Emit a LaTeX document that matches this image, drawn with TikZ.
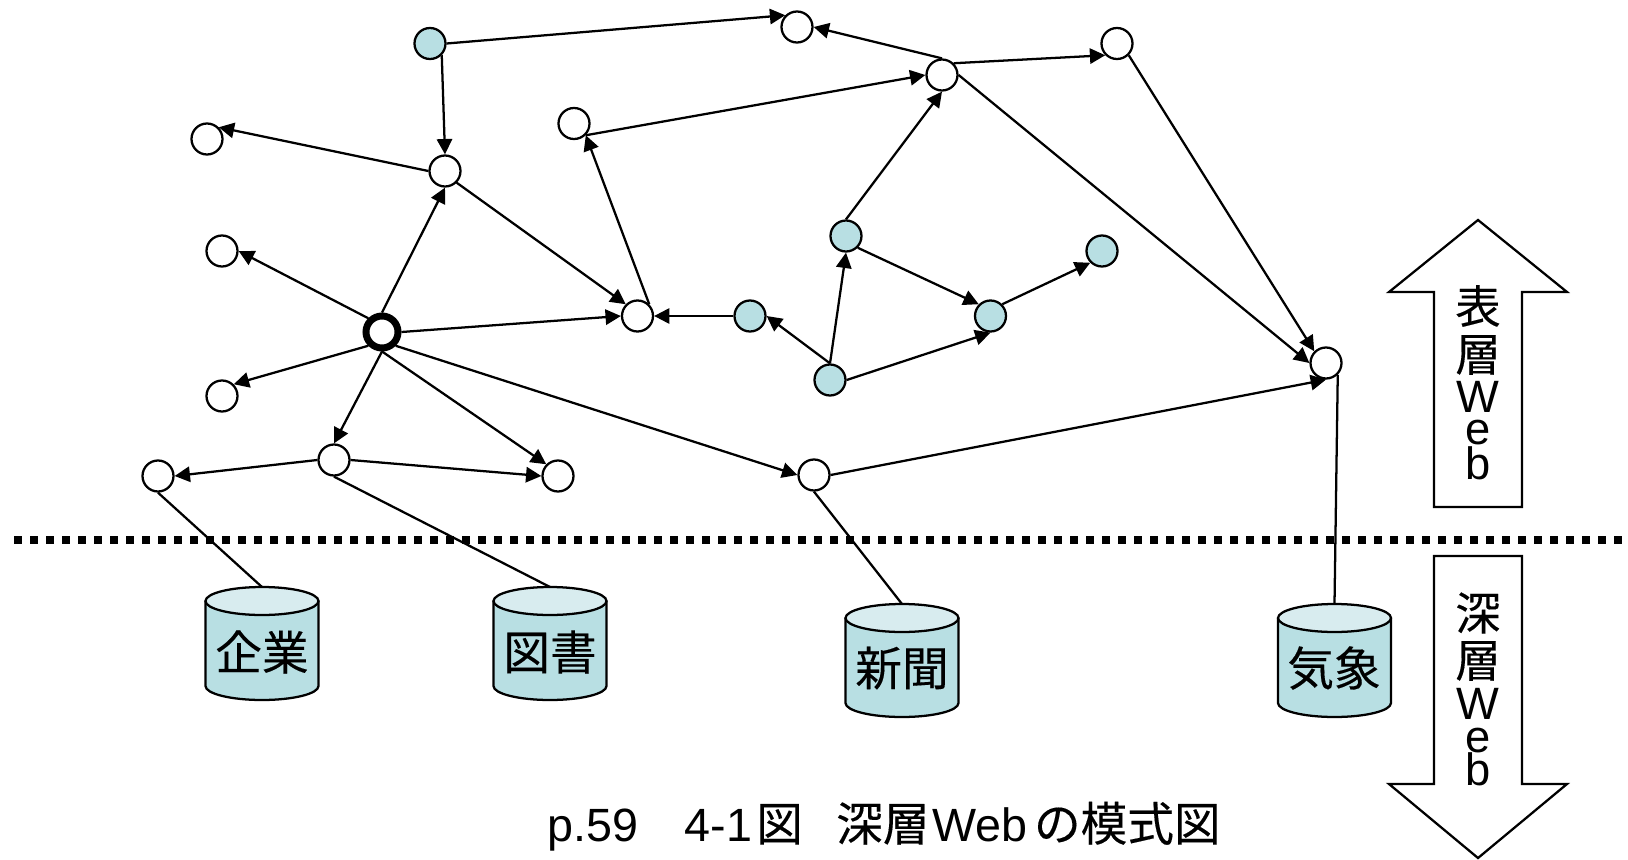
\documentclass[tikz,border=0pt]{standalone}
\usepackage{fontspec}
\setmainfont{Liberation Sans}
\newfontfamily\cjk[FakeBold=0.25]{Noto Sans CJK JP}
\usetikzlibrary{arrows.meta}
\definecolor{nodeblue}{HTML}{B8DFE3}
\definecolor{cyltop}{HTML}{D8ECEF}
\tikzset{
  x=0.75pt,y=-0.75pt,
  pagenode/.style={circle,draw=black,line width=1.7pt,fill=white,minimum size=23.25pt,inner sep=0pt,outer sep=0.85pt},
  bluenode/.style={pagenode,fill=nodeblue},
  hubnode/.style={pagenode,line width=5.25pt,minimum size=24pt,outer sep=2.6pt},
  link/.style={line width=1.7pt,-{Triangle[length=11.5pt,width=11.5pt]}},
  plain/.style={line width=1.7pt},
  dbbody/.style={draw=black,line width=1.7pt,fill=nodeblue,line join=round},
  dbtop/.style={draw=black,line width=1.7pt,fill=cyltop},
  cyltext/.style={font=\cjk\fontsize{35}{35}\selectfont,inner sep=0pt},
  blockarrow/.style={draw=black,line width=1.7pt,fill=white,line join=miter},
  stack/.style={font=\fontsize{34}{34}\selectfont,inner sep=0pt,anchor=center},
  stackcjk/.style={font=\cjk\fontsize{34}{34}\selectfont,inner sep=0pt,anchor=center},
}
\begin{document}
\begin{tikzpicture}
\useasboundingbox (0,0) rectangle (1628,860);
% dotted boundary
\coordinate (lineL) at (14,540);
\coordinate (lineR) at (1628,540);
\draw[line width=6pt,dash pattern=on 6pt off 6pt] (lineL) -- (lineR);
% databases: centre x / y of the top edge
\foreach \nm/\cx/\ty in {db1/262/587,db2/550/587,db3/902/604,db4/1334.5/604}{
  \coordinate (\nm) at (\cx,\ty);
  \path[dbbody] (\cx-56.5,\ty+14) -- (\cx-56.5,\ty+99) arc[start angle=180,end angle=0,x radius=56.5,y radius=14] -- (\cx+56.5,\ty+14) -- cycle;
  \path[dbtop] (\cx,\ty+14) ellipse[x radius=56.5,y radius=14];
}
\node[cyltext] (t1) at (262,652) {企業};
\node[cyltext] (t2) at (550,652) {図書};
\node[cyltext] (t3) at (902,668) {新聞};
\node[cyltext] (t4) at (1334,668) {気象};
% nodes
\node[bluenode] (n1) at (430,43.5) {};
\node[pagenode] (n2) at (797,27) {};
\node[pagenode] (n3) at (942,75) {};
\node[pagenode] (n4) at (1117,43.5) {};
\node[pagenode] (n5) at (574,123.5) {};
\node[pagenode] (n6) at (445,171) {};
\node[pagenode] (n7) at (207,139) {};
\node[pagenode] (n8) at (222,251) {};
\node[hubnode] (n9) at (382,332) {};
\node[pagenode] (n10) at (222,396) {};
\node[pagenode] (n11) at (334,460) {};
\node[pagenode] (n12) at (158,476) {};
\node[pagenode] (n13) at (558,476) {};
\node[pagenode] (n14) at (814,475) {};
\node[pagenode] (n15) at (637.5,316) {};
\node[bluenode] (n16) at (750,316) {};
\node[bluenode] (n17) at (830,380) {};
\node[bluenode] (n18) at (846,236) {};
\node[bluenode] (n19) at (990.5,316) {};
\node[bluenode] (n20) at (1102,251) {};
\node[pagenode] (n21) at (1326,363) {};
% links
\foreach \a/\b in {
  n1.east/n2.north west, n1.south east/n6.north, n3.north/n2.east, n3.north east/n4.south west,
  n5.south east/n3.west, n6.west/n7.north east, n6.south east/n15.north west, n9.north/n6.south,
  n9.north west/n8.east, n9.south west/n10.north east, n9.south/n11.north, n9.south/n13.north west,
  n9.east/n15.west, n9.south east/n14.west, n11.west/n12.east, n11.east/n13.west,
  n14.east/n21.south, n15.north east/n5.south east, n16.west/n15.east, n17.north/n16.east,
  n17.north/n18.south, n17.east/n19.south, n18.north/n3.south, n18.south east/n19.north west,
  n19.north east/n20.south west, n3.east/n21.west, n4.south east/n21.north west}
  \draw[link] (\a) -- (\b);
\draw[plain] (n12.south) -- (db1);
\draw[plain] (n11.south) -- (db2);
\draw[plain] (n14.south) -- (db3);
\draw[plain] (n21.south east) -- (db4);
% block arrows
\draw[blockarrow] (1434,507) -- (1434,292) -- (1389,292) -- (1478,220) -- (1567,292) -- (1522,292) -- (1522,507) -- cycle;
\draw[blockarrow] (1434,556) -- (1434,784) -- (1389,784) -- (1478,858) -- (1567,784) -- (1522,784) -- (1522,556) -- cycle;
\node[stackcjk] (u1) at (1478,306) {表};
\node[stackcjk] (u2) at (1478,355) {層};
\node[stack] (u3) at (1478,396.5) {W};
\node[stack] (u4) at (1478,432.5) {e};
\node[stack] (u5) at (1478,463) {b};
\node[stackcjk] (d1) at (1478,613) {深};
\node[stackcjk] (d2) at (1478,661) {層};
\node[stack] (d3) at (1478,704) {W};
\node[stack] (d4) at (1478,741) {e};
\node[stack] (d5) at (1478,769.5) {b};
% caption
\node[font=\fontsize{35}{35}\selectfont,inner sep=0pt,anchor=base west] (cap) at (547,841) {p.59{\cjk　}4-1\hspace{3pt}{\cjk 図}\hspace{25pt}{\cjk 深層}\hspace{2pt}Web\hspace{5pt}{\cjk の模式図}};
\end{tikzpicture}
\end{document}
